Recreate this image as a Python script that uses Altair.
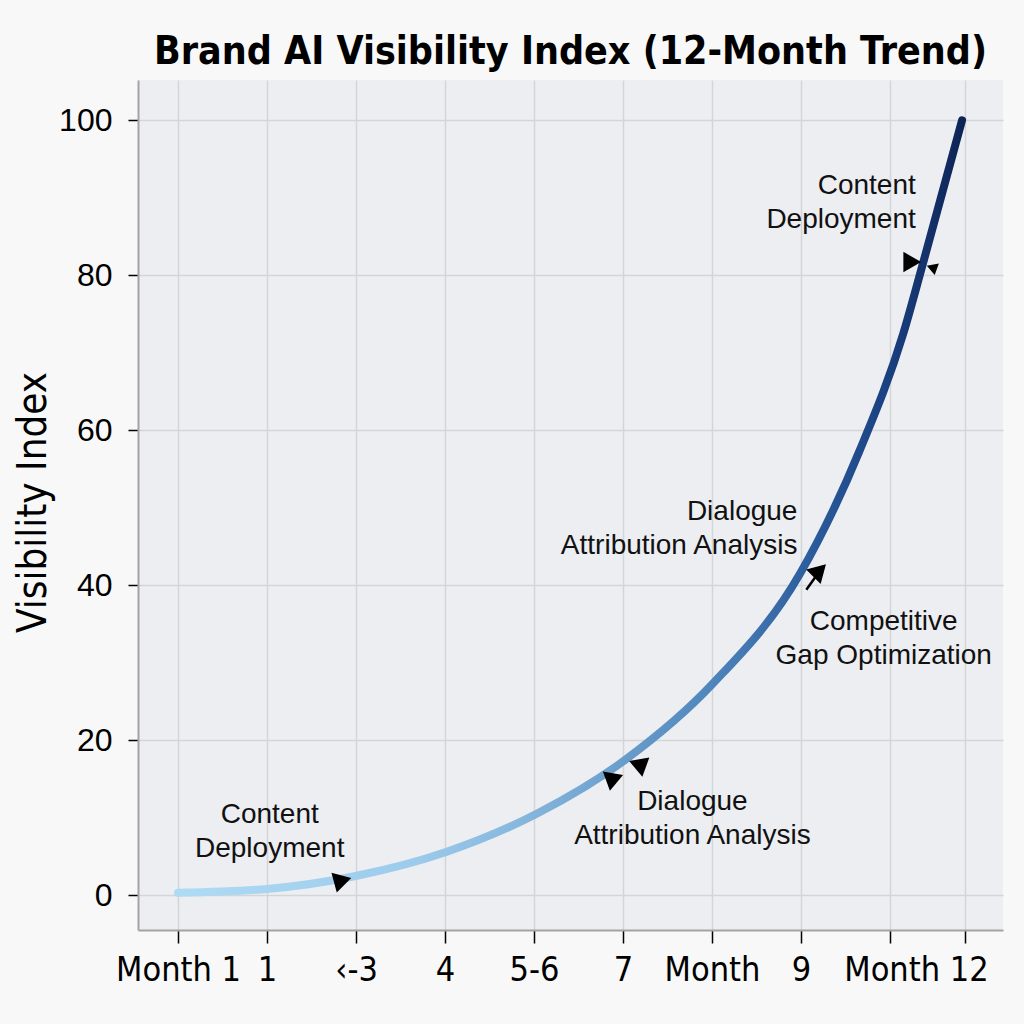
import altair as alt
import pandas as pd

# Axis ticks: positions in tick-step units and the text shown under each
tick_positions = [1, 2, 3, 4, 5, 6, 7, 8, 9, 9.84]
tick_labels = ["Month 1", "1", "\u2039-3", "4", "5-6", "7", "Month", "9", "Month 12", ""]
y_ticks = [0, 20, 40, 60, 80, 100]

# Visibility index curve
curve_x = [1.0, 2.0, 3.01, 4.02, 5.03, 6.03, 7.01, 7.99, 8.66, 9.15, 9.37, 9.81]
curve_y = [0.3, 0.8, 2.5, 5.6, 10.5, 17.5, 27.3, 41.5, 57.4, 72.5, 81.5, 100.0]

# Milestone notes (centred and right-aligned groups); y is the first line
center_notes = ["Content\nDeployment", "Competitive\nGap Optimization", "Dialogue\nAttribution Analysis"]
center_x = [2.03, 8.93, 6.78]
center_y = [10.3, 35.2, 12.0]

right_notes = ["Content\nDeployment", "Dialogue\nAttribution Analysis"]
right_x = [9.29, 7.96]
right_y = [91.5, 49.4]

# Arrowheads along the curve (direction in degrees, clockwise from pointing right)
arrow_x = [2.85, 5.87, 6.20, 8.21, 9.25]
arrow_y = [1.9, 14.6, 16.4, 41.9, 81.7]
arrow_dir = [345, 100, 80, 315, 0]

# Small hook next to the upper arrowhead
hook_x = [9.47]
hook_y = [81.0]
hook_dir = [200]

# Tail of the up-right arrow
tail_x = [8.06]
tail_y = [39.4]
tail_x2 = [8.19]
tail_y2 = [41.5]

curve_df = pd.DataFrame({"month": curve_x, "index": curve_y})
center_df = pd.DataFrame({"x": center_x, "y": center_y, "text": center_notes})
right_df = pd.DataFrame({"x": right_x, "y": right_y, "text": right_notes})
arrow_df = pd.DataFrame({"x": arrow_x, "y": arrow_y, "dir": arrow_dir})
hook_df = pd.DataFrame({"x": hook_x, "y": hook_y, "dir": hook_dir})
tail_df = pd.DataFrame({"x": tail_x, "y": tail_y, "x2": tail_x2, "y2": tail_y2})

label_map = "{" + ", ".join(f"'{p}': '{t}'" for p, t in zip(tick_positions, tick_labels)) + "}"

NARROW = "'DejaVu Sans Condensed', 'Liberation Sans', sans-serif"

x_scale = alt.Scale(domain=[0.55, 10.27], nice=False, zero=False)
y_scale = alt.Scale(domain=[-4.5, 105.2], nice=False, zero=False)

x_axis = alt.Axis(
    values=tick_positions,
    labelExpr=f"{label_map}[toString(datum.value)]",
    title=None,
    grid=True,
    gridColor="#d3d5d8",
    gridWidth=1.5,
    domainColor="#a3a3a3",
    domainWidth=2,
    tickColor="black",
    tickWidth=1.5,
    tickSize=13,
    labelFont=NARROW,
    labelFontSize=34,
    labelColor="black",
    labelPadding=10,
    labelFlush=False,
    labelOverlap=False,
    labelOffset=alt.condition("datum.value == 9", alt.value(26), alt.value(0)),
)

y_axis = alt.Axis(
    values=y_ticks,
    title="Visibility Index",
    titleFont=NARROW,
    titleFontSize=40,
    titleFontWeight="normal",
    titleColor="black",
    titleAngle=270,
    titleX=-105,
    titleY=422,
    titleAlign="center",
    titleBaseline="middle",
    grid=True,
    gridColor="#d3d5d8",
    gridWidth=1.5,
    domainColor="#a3a3a3",
    domainWidth=2,
    tickColor="black",
    tickWidth=1.5,
    tickSize=10,
    labelFont="Liberation Sans",
    labelFontSize=32,
    labelColor="black",
    labelPadding=16,
    labelFlush=False,
)

line_gradient = alt.Gradient(
    gradient="linear",
    stops=[
        alt.GradientStop(color="#aedbf4", offset=0.0),
        alt.GradientStop(color="#9ccbec", offset=0.3),
        alt.GradientStop(color="#82b3da", offset=0.46),
        alt.GradientStop(color="#4f86bc", offset=0.68),
        alt.GradientStop(color="#2d5e9e", offset=0.8),
        alt.GradientStop(color="#1b4283", offset=0.9),
        alt.GradientStop(color="#0e2456", offset=1.0),
    ],
    x1=0, x2=1, y1=0, y2=0,
)

X = lambda f: alt.X(f, scale=x_scale, axis=x_axis)
Y = lambda f: alt.Y(f, scale=y_scale, axis=y_axis)

curve = alt.Chart(curve_df).mark_line(
    stroke=line_gradient, strokeWidth=8, strokeCap="round", interpolate="monotone"
).encode(x=X("month:Q"), y=Y("index:Q"))

arrows = alt.Chart(arrow_df).mark_point(
    shape="triangle-right", filled=True, color="black", size=420, opacity=1
).encode(x=X("x:Q"), y=Y("y:Q"), angle=alt.Angle("dir:Q", scale=None))

hooks = alt.Chart(hook_df).mark_point(
    shape="triangle-right", filled=True, color="black", size=150, opacity=1
).encode(x=X("x:Q"), y=Y("y:Q"), angle=alt.Angle("dir:Q", scale=None))

tails = alt.Chart(tail_df).mark_rule(color="black", strokeWidth=2.5).encode(
    x=X("x:Q"), y=Y("y:Q"), x2="x2:Q", y2="y2:Q"
)

note_style = dict(font="Liberation Sans", fontSize=28, color="#111111",
                  lineHeight=34, baseline="middle", lineBreak="\n")

center_text = alt.Chart(center_df).mark_text(align="center", **note_style).encode(
    x=X("x:Q"), y=Y("y:Q"), text="text:N"
)

right_text = alt.Chart(right_df).mark_text(align="right", **note_style).encode(
    x=X("x:Q"), y=Y("y:Q"), text="text:N"
)

chart = alt.layer(curve, tails, arrows, hooks, center_text, right_text).properties(
    width=865,
    height=850,
    title=alt.TitleParams(
        "Brand AI Visibility Index (12-Month Trend)",
        font=NARROW,
        fontSize=39,
        fontWeight="bold",
        color="black",
        anchor="middle",
        baseline="alphabetic",
        offset=-23,
    ),
    autosize=alt.AutoSizeParams(type="none"),
    padding={"left": 138, "top": 80, "right": 21, "bottom": 94},
    background="#f8f8f8",
).configure_view(fill="#eceef1", stroke=None)

chart.save("out.html", embed_options={"renderer": "svg", "actions": False})
